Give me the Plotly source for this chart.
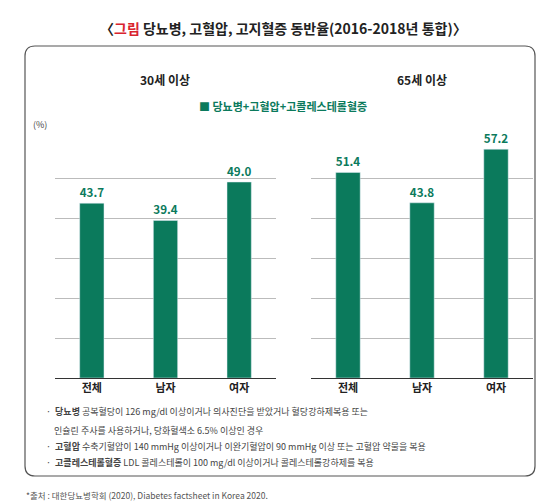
import plotly.graph_objects as go

categories = ['전체', '남자', '여자']
values_30 = [43.7, 39.4, 49.0]
values_65 = [51.4, 43.8, 57.2]
panel_titles = ['30세 이상', '65세 이상']
series_name = '당뇨병+고혈압+고콜레스테롤혈증'

GREEN = '#0b7a5c'
FONT = 'Noto Sans CJK KR'
y0 = 1 - 370 / 503
y1 = 1 - 130 / 503

fig = go.Figure()
fig.add_trace(go.Bar(x=['<b>%s</b>' % c for c in categories], y=values_30, marker_color=GREEN, width=0.33,
                     text=[f'<b>{v:.1f}</b>' for v in values_30], textposition='outside',
                     textfont=dict(color=GREEN, size=12, family=FONT), cliponaxis=False,
                     xaxis='x', yaxis='y', showlegend=False))
fig.add_trace(go.Bar(x=['<b>%s</b>' % c for c in categories], y=values_65, marker_color=GREEN, width=0.33,
                     text=[f'<b>{v:.1f}</b>' for v in values_65], textposition='outside',
                     textfont=dict(color=GREEN, size=12, family=FONT), cliponaxis=False,
                     xaxis='x2', yaxis='y2', showlegend=False))

ax = dict(showgrid=False, tickfont=dict(size=11, color='#222', family=FONT), ticks='',
          showline=True, linecolor='#333', linewidth=1)
ay = dict(range=[0, 60], dtick=10, showgrid=True, gridcolor='#bbbbbb', gridwidth=1,
          showticklabels=False, zeroline=False, domain=[y0, y1])
fig.update_layout(
    width=550, height=503, margin=dict(l=0, r=0, t=0, b=0),
    paper_bgcolor='white', plot_bgcolor='white',
    font=dict(family=FONT),
    xaxis=dict(ax, domain=[47 / 550, 268 / 550]),
    xaxis2=dict(ax, domain=[303 / 550, 525 / 550]),
    yaxis=dict(ay),
    yaxis2=dict(ay, anchor='x2'),
    bargap=0.6,
)


def py(px):
    return 1 - px / 503


# rounded frame, given in pixels and turned into paper coordinates
x0p, x1p, t, b, r = 17, 527, 38, 468, 10
path = (f'M {x0p + r},{t} L {x1p - r},{t} Q {x1p},{t} {x1p},{t + r} L {x1p},{b - r} '
        f'Q {x1p},{b} {x1p - r},{b} L {x0p + r},{b} Q {x0p},{b} {x0p},{b - r} '
        f'L {x0p},{t + r} Q {x0p},{t} {x0p + r},{t} Z')


def conv(s):
    out = []
    for tk in s.split():
        if ',' in tk:
            a, c = tk.split(',')
            out.append(f'{float(a) / 550:.5f},{py(float(c)):.5f}')
        else:
            out.append(tk)
    return ' '.join(out)


fig.add_shape(type='path', path=conv(path), xref='paper', yref='paper',
              line=dict(color='#555', width=1.2), layer='below')

ann = [
    dict(x=0.5, y=py(20), text='<b>〈<span style="color:#d9232e">그림</span> 당뇨병, 고혈압, 고지혈증 동반율(2016-2018년 통합)〉</b>',
         font=dict(size=14, color='#222')),
    dict(x=157 / 550, y=py(71), text='<b>' + panel_titles[0] + '</b>', font=dict(size=12, color='#222')),
    dict(x=414 / 550, y=py(71), text='<b>' + panel_titles[1] + '</b>', font=dict(size=12, color='#222')),
    dict(x=0.5, y=py(98), text=f'<span style="color:{GREEN}">■</span> <b>{series_name}</b>',
         font=dict(size=11, color=GREEN)),
    dict(x=32 / 550, y=py(116), text='(%)', font=dict(size=9, color='#444')),
]
notes = [
    (403, '·  <b>당뇨병</b> 공복혈당이 126 mg/dl 이상이거나 의사진단을 받았거나 혈당강하제복용 또는'),
    (422, '    인슐린 주사를 사용하거나, 당화혈색소 6.5% 이상인 경우'),
    (438, '·  <b>고혈압</b> 수축기혈압이 140 mmHg 이상이거나 이완기혈압이 90 mmHg 이상 또는 고혈압 약물을 복용'),
    (454, '·  <b>고콜레스테롤혈증</b> LDL 콜레스테롤이 100 mg/dl 이상이거나 콜레스테롤강하제를 복용'),
]
for yy, txt in notes:
    ann.append(dict(x=36 / 550, y=py(yy), text=txt, xanchor='left', font=dict(size=9, color='#444')))
ann.append(dict(x=16 / 550, y=py(487), text='*출처 : 대한당뇨병학회 (2020), Diabetes factsheet in Korea 2020.',
                xanchor='left', font=dict(size=8.5, color='#555')))
for a in ann:
    a.setdefault('xanchor', 'center')
    a.update(xref='paper', yref='paper', yanchor='middle', showarrow=False)
fig.update_layout(annotations=ann)

fig.write_html('out.html')
